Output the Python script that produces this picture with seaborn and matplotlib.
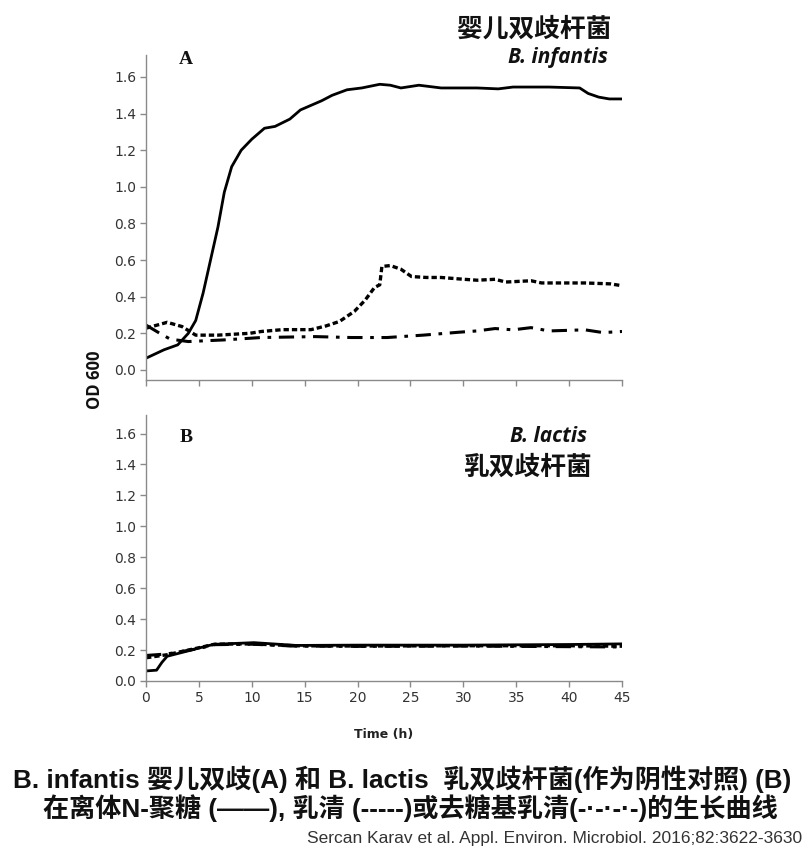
import matplotlib
matplotlib.use("Agg")
import matplotlib.pyplot as plt
import seaborn as sns
import numpy as np
import pandas as pd

# ---------------- data ----------------
# Panel A: B. infantis
a_glycan_t = [0, 1.7, 3.0, 4.0, 4.7, 5.4, 6.1, 6.8, 7.4, 8.1, 9.0, 10.0, 11.2, 12.2, 13.6,
              14.6, 16.6, 17.6, 19.0, 20.4, 22.1, 23.1, 24.1, 25.8, 27.9, 31.3, 33.3, 34.7,
              38.1, 41.0, 41.8, 42.8, 43.8, 45.0]
a_glycan_v = [0.064, 0.11, 0.137, 0.20, 0.27, 0.42, 0.60, 0.78, 0.97, 1.11, 1.20, 1.26, 1.32,
              1.33, 1.37, 1.42, 1.47, 1.50, 1.53, 1.54, 1.56, 1.555, 1.54, 1.555, 1.54, 1.54,
              1.535, 1.545, 1.545, 1.54, 1.51, 1.49, 1.48, 1.48]

a_whey_t = [0, 2.0, 3.4, 4.7, 6.8, 9.8, 10.9, 12.9, 15.6, 17.0, 18.3, 19.7, 20.7, 21.6, 22.1,
            22.3, 23.1, 24.1, 25.1, 26.5, 27.9, 29.6, 31.3, 33.0, 34.0, 36.4, 37.4, 41.5, 43.9,
            45.0]
a_whey_v = [0.228, 0.26, 0.237, 0.19, 0.19, 0.20, 0.21, 0.22, 0.22, 0.24, 0.265, 0.32, 0.38,
            0.45, 0.465, 0.565, 0.57, 0.55, 0.51, 0.505, 0.505, 0.497, 0.49, 0.495, 0.48, 0.487,
            0.475, 0.475, 0.47, 0.46]

a_degly_t = [0, 1.3, 2.3, 4.0, 7.4, 10.9, 16.0, 19.4, 22.8, 26.2, 29.6, 31.3, 33.0, 34.7, 36.4,
             38.1, 41.5, 43.2, 45.0]
a_degly_v = [0.245, 0.20, 0.168, 0.155, 0.164, 0.177, 0.182, 0.177, 0.177, 0.19, 0.206, 0.213,
             0.226, 0.219, 0.231, 0.213, 0.219, 0.204, 0.21]

# Panel B: B. lactis
b_glycan_t = [0, 1.0, 1.5, 2.0, 4.0, 5.1, 6.4, 10.2, 14.2, 20.0, 30.0, 40.0, 45.0]
b_glycan_v = [0.065, 0.07, 0.12, 0.16, 0.195, 0.215, 0.237, 0.248, 0.23, 0.232, 0.232, 0.236, 0.24]

b_whey_t = [0, 2.0, 5.0, 6.5, 10.0, 14.0, 20.0, 30.0, 40.0, 45.0]
b_whey_v = [0.15, 0.17, 0.215, 0.238, 0.24, 0.228, 0.226, 0.228, 0.228, 0.225]

b_degly_t = [0, 2.0, 5.0, 6.5, 10.0, 14.0, 20.0, 30.0, 40.0, 45.0]
b_degly_v = [0.165, 0.175, 0.21, 0.235, 0.238, 0.226, 0.224, 0.226, 0.222, 0.22]

x_ticks = [0, 5, 10, 15, 20, 25, 30, 35, 40, 45]
y_ticks = [0.0, 0.2, 0.4, 0.6, 0.8, 1.0, 1.2, 1.4, 1.6]

# ---------------- figure ----------------
sns.set_theme(style="white")
plt.rcParams['font.family'] = ['Noto Sans CJK SC', 'DejaVu Sans']

fig = plt.figure(figsize=(8.03, 8.50), dpi=100)
W, H = 803, 850

def ax_rect(left, right, top, bottom):
    return [left / W, 1 - bottom / H, (right - left) / W, (bottom - top) / H]

axA = fig.add_axes(ax_rect(146, 622, 55, 380))
axB = fig.add_axes(ax_rect(146, 622, 415, 681))

series_style = {
    'glycan': dict(linestyle='-', linewidth=2.0),
    'whey': dict(linestyle=(0, (1.6, 0.9)), linewidth=2.4),
    'degly': dict(linestyle=(0, (5, 2.5, 1.2, 2.5)), linewidth=2.2),
}

def draw(ax, data):
    for key, (t, v) in data.items():
        df = pd.DataFrame({'t': t, 'v': v})
        sns.lineplot(data=df, x='t', y='v', ax=ax, color='black', **series_style[key])

draw(axA, {'glycan': (a_glycan_t, a_glycan_v), 'whey': (a_whey_t, a_whey_v),
           'degly': (a_degly_t, a_degly_v)})
draw(axB, {'glycan': (b_glycan_t, b_glycan_v), 'whey': (b_whey_t, b_whey_v),
           'degly': (b_degly_t, b_degly_v)})

tick_font = ['Liberation Sans Narrow', 'DejaVu Sans']
for ax, ylo in ((axA, -0.055), (axB, 0.0)):
    ax.set_xlim(0, 45)
    ax.set_ylim(ylo, 1.72)
    ax.set_xticks(x_ticks)
    ax.set_yticks(y_ticks)
    ax.set_yticklabels([f"{v:.1f}" for v in y_ticks], family=tick_font, fontsize=10, color='#333333')
    for s in ('top', 'right'):
        ax.spines[s].set_visible(False)
    for s in ('left', 'bottom'):
        ax.spines[s].set_color('#8a8a8a')
        ax.spines[s].set_linewidth(1.0)
    ax.tick_params(axis='both', which='major', direction='out', length=4, width=1.0,
                   color='#8a8a8a', left=True, bottom=True, pad=3)
    ax.set_xlabel('')
    ax.set_ylabel('')
    ax.set_facecolor('white')

axA.set_xticklabels([])
axB.set_xticklabels([str(v) for v in x_ticks], family=tick_font, fontsize=10, color='#333333')
axB.set_xlabel('Time (h)', family=tick_font, fontsize=9, fontweight='bold', color='#222222', labelpad=17)

# panel letters
fig.text(186 / W, 1 - 60 / H, 'A', family='Liberation Serif', fontweight='bold',
         fontsize=14, ha='center', va='center', color='#111111')
fig.text(186 / W, 1 - 437 / H, 'B', family='Liberation Serif', fontweight='bold',
         fontsize=14, ha='center', va='center', color='#111111')

# species labels
fig.text(612 / W, 1 - 29 / H, '婴儿双歧杆菌', fontsize=18.5, fontweight='bold', ha='right', va='center',
         family=['Noto Sans CJK SC', 'DejaVu Sans'], color='#111111')
fig.text(608 / W, 1 - 57 / H, 'B. infantis', fontsize=15, fontweight='bold', style='italic',
         ha='right', va='center', family=['Open Sans', 'DejaVu Sans'], color='#111111')
fig.text(587 / W, 1 - 436 / H, 'B. lactis', fontsize=15, fontweight='bold', style='italic',
         ha='right', va='center', family=['Open Sans', 'DejaVu Sans'], color='#111111')
fig.text(592 / W, 1 - 467 / H, '乳双歧杆菌', fontsize=18.5, fontweight='bold', ha='right', va='center',
         family=['Noto Sans CJK SC', 'DejaVu Sans'], color='#111111')

# y label
fig.text(95 / W, 1 - 380 / H, 'OD 600', rotation=90, fontsize=12, fontweight='bold',
         ha='center', va='center', family=['Open Sans', 'DejaVu Sans'], color='#111111')

# caption
cap_font = ['Liberation Sans', 'Noto Sans CJK SC', 'DejaVu Sans']
fig.text(402 / W, 1 - 779 / H, 'B. infantis 婴儿双歧(A) 和 B. lactis  乳双歧杆菌(作为阴性对照) (B)',
         fontsize=18.8, fontweight='bold', ha='center', va='center', family=cap_font, color='#111111')
fig.text(410 / W, 1 - 808 / H, '在离体N-聚糖 (——), 乳清 (-----)或去糖基乳清(-·-·-·-)的生长曲线',
         fontsize=18.8, fontweight='bold', ha='center', va='center', family=cap_font, color='#111111')
fig.text(802 / W, 1 - 838 / H, 'Sercan Karav et al. Appl. Environ. Microbiol. 2016;82:3622-3630',
         fontsize=12.5, ha='right', va='center', family=['Liberation Sans', 'DejaVu Sans'],
         color='#333333')

fig.savefig('out.png', dpi=100, facecolor='white')
